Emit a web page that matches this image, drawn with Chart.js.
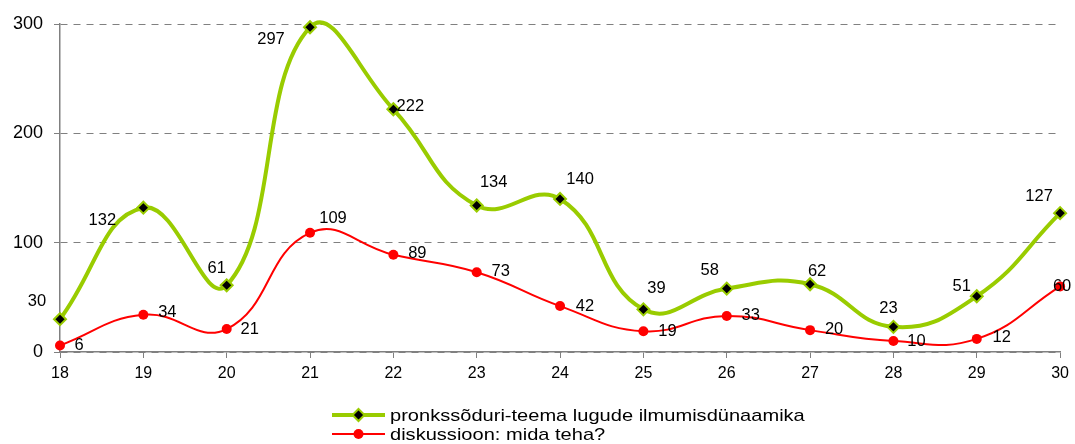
<!DOCTYPE html>
<html>
<head>
<meta charset="utf-8">
<script src="https://cdn.jsdelivr.net/npm/chart.js@4"></script>
<style>
html,body{margin:0;padding:0;background:#fff;}
#wrap{width:1075px;height:444px;position:relative;}
</style>
</head>
<body>
<div id="wrap"><canvas id="c" width="1075" height="444"></canvas></div>
<script>
const categories = ['18','19','20','21','22','23','24','25','26','27','28','29','30'];
const greenValues = [30,132,61,297,222,134,140,39,58,62,23,51,127];
const redValues = [6,34,21,109,89,73,42,19,33,20,10,12,60];
const yTicks = [0,100,200,300];
const greenName = 'pronkssõduri-teema lugude ilmumisdünaamika';
const redName = 'diskussioon: mida teha?';

// label placement (style only): [dx, dy] from point to text centre
const greenLabelOffsets = [[-23,-18],[-41,13],[-10,-17],[-39,12],[17,-3],[17,-23],[20,-19],[13,-21],[-17,-18],[7,-13],[-5,-18],[-15,-10],[-21,-17]];
const redLabelOffsets = [[19,0],[24,-2],[23,0],[23,-14],[24,-1],[24,-1],[25,0],[24,0],[24,0],[24,-1],[23,0],[25,-1],[2,0]];

const GREEN = '#99CC00';
const RED = '#FF0000';
const FONT = '"Liberation Sans", Arial, sans-serif';

const labelPlugin = {
  id: 'pointLabels',
  afterDatasetsDraw(chart) {
    const ctx = chart.ctx;
    ctx.save();
    ctx.font = '16.5px ' + FONT;
    ctx.fillStyle = '#000';
    ctx.textAlign = 'center';
    ctx.textBaseline = 'middle';
    const offs = [greenLabelOffsets, redLabelOffsets];
    chart.data.datasets.forEach((ds, di) => {
      const meta = chart.getDatasetMeta(di);
      meta.data.forEach((el, i) => {
        const o = offs[di][i];
        ctx.fillText(String(ds.data[i]), el.x + o[0], el.y + o[1]);
      });
    });
    ctx.restore();
  }
};

const legendPlugin = {
  id: 'customLegend',
  afterDraw(chart) {
    const ctx = chart.ctx;
    ctx.save();
    const x0 = 332, x1 = 385, tx = 390;
    const rows = [{y: 415, color: GREEN, w: 4, text: greenName, type: 'diamond'},
                  {y: 434, color: RED, w: 2, text: redName, type: 'circle'}];
    rows.forEach(r => {
      ctx.strokeStyle = r.color;
      ctx.lineWidth = r.w;
      ctx.beginPath();
      ctx.moveTo(x0, r.y); ctx.lineTo(x1, r.y); ctx.stroke();
      const cx = (x0 + x1) / 2;
      if (r.type === 'diamond') {
        ctx.fillStyle = '#000';
        ctx.lineWidth = 2;
        ctx.beginPath();
        ctx.moveTo(cx, r.y - 6); ctx.lineTo(cx + 6, r.y); ctx.lineTo(cx, r.y + 6); ctx.lineTo(cx - 6, r.y); ctx.closePath();
        ctx.fill(); ctx.stroke();
      } else {
        ctx.fillStyle = RED;
        ctx.beginPath(); ctx.arc(cx, r.y, 5, 0, Math.PI * 2); ctx.fill();
      }
      ctx.save();
      ctx.fillStyle = '#000';
      ctx.font = '17px ' + FONT;
      ctx.textAlign = 'left';
      ctx.textBaseline = 'middle';
      ctx.translate(tx, r.y + 1);
      ctx.scale(1.18, 1);
      ctx.fillText(r.text, 0, 0);
      ctx.restore();
    });
    ctx.restore();
  }
};

new Chart(document.getElementById('c'), {
  type: 'line',
  data: {
    labels: categories,
    datasets: [
      {
        label: greenName,
        data: greenValues,
        borderColor: GREEN,
        borderWidth: 4,
        tension: 0.45,
        capBezierPoints: false,
        pointStyle: 'rectRot',
        pointRadius: 6,
        pointBorderWidth: 2,
        pointBackgroundColor: '#000',
        pointBorderColor: GREEN,
        clip: false
      },
      {
        label: redName,
        data: redValues,
        borderColor: RED,
        borderWidth: 2,
        tension: 0.45,
        capBezierPoints: false,
        pointStyle: 'circle',
        pointRadius: 5,
        pointBorderWidth: 0,
        pointBackgroundColor: RED,
        pointBorderColor: RED,
        clip: false
      }
    ]
  },
  options: {
    responsive: false,
    animation: false,
    layout: { padding: { top: 24, right: 12, left: 0, bottom: 52 } },
    plugins: { legend: { display: false }, tooltip: { enabled: false } },
    scales: {
      x: {
        offset: false,
        grid: { drawOnChartArea: false, drawTicks: true, tickLength: 6, color: '#808080' },
        border: { color: '#808080', width: 1.5 },
        ticks: { color: '#000', font: { family: FONT, size: 16 }, padding: 6, maxRotation: 0 },
        afterFit(s) { s.height = 40; }
      },
      y: {
        min: 0, max: 300,
        afterBuildTicks(s) { s.ticks = yTicks.map(v => ({ value: v })); },
        grid: {
          color: '#808080', lineWidth: 1, tickBorderDash: [],
          drawTicks: true, tickLength: 6
        },
        border: { color: '#808080', width: 1.5, dash: [7, 6] },
        ticks: { color: '#000', font: { family: FONT, size: 18 }, padding: 11 },
        afterFit(s) { s.width = 60; }
      }
    }
  },
  plugins: [labelPlugin, legendPlugin]
});
</script>
</body>
</html>
